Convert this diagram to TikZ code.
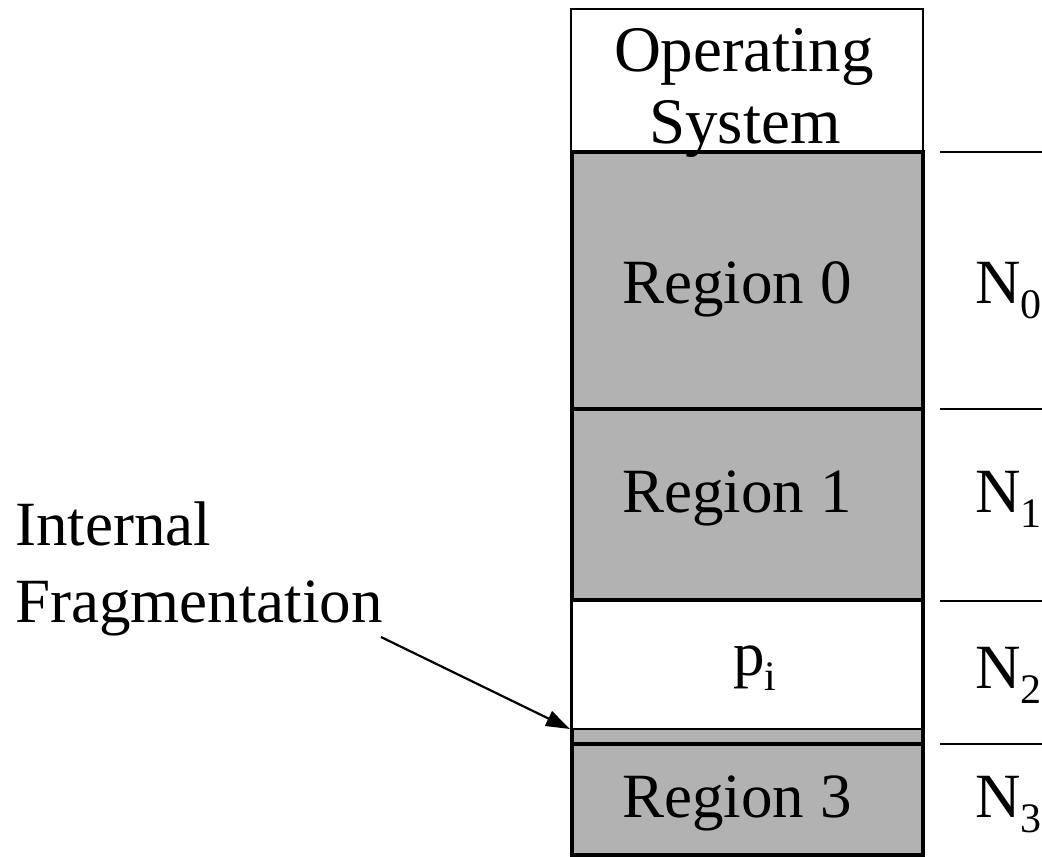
\documentclass[tikz,border=0pt]{standalone}
\usepackage{fontspec}
\setmainfont{Liberation Serif}
\usetikzlibrary{arrows.meta}
\definecolor{regiongray}{RGB}{178,178,178}
\newcommand{\sbs}[1]{\raisebox{-7.8pt}{\fontsize{21}{21}\selectfont #1}}
\begin{document}
\begin{tikzpicture}[x=0.5pt,y=-0.5pt,
  lbl/.style={font=\fontsize{31.5}{36}\selectfont, inner sep=0pt, anchor=base},
  oslbl/.style={lbl, font=\fontsize{32.5}{36}\selectfont},
  lblw/.style={lbl, anchor=base west},
  thickbox/.style={draw=black, line width=2.2pt, fill=regiongray},
  thinbox/.style={draw=black, line width=0.8pt, fill=white},
  sepline/.style={draw=black, line width=0.9pt},
  pointer/.style={draw=black, line width=1.1pt, -{Triangle[length=12pt,width=8pt]}}]
\useasboundingbox (0,0) rectangle (1042,856);
% memory column
\draw[thinbox] (571,9) rectangle (923,152);
\draw[thickbox] (572,600) rectangle (923,744);
\draw[thinbox] (572,600) rectangle (922,729);
\draw[thickbox] (572,152) rectangle (923,409);
\draw[thickbox] (572,409) rectangle (923,600);
\draw[thickbox] (572,744) rectangle (923,855);
% separators on the right
\draw[sepline] (940,152) -- (1042,152);
\draw[sepline] (940,409) -- (1042,409);
\draw[sepline] (940,601) -- (1042,601);
\draw[sepline] (940,744) -- (1042,744);
% texts
\node[oslbl] (os1) at (744,72) {Operating};
\node[oslbl] (os2) at (745,143) {System};
\node[lbl] (r0) at (737,303) {Region 0};
\node[lbl] (r1) at (737,512) {Region 1};
\node[lbl] (pi) at (755,675) {p\sbs{i}};
\node[lbl] (r3) at (737,817) {Region 3};
\node[lblw] (n0) at (975,303) {N\sbs{0}};
\node[lblw] (n1) at (975,512) {N\sbs{1}};
\node[lblw] (n2) at (975,688) {N\sbs{2}};
\node[lblw] (n3) at (975,817) {N\sbs{3}};
\node[lblw] (int1) at (15,545) {Internal};
\node[lblw] (int2) at (15,622) {Fragmentation};
% arrow
\coordinate (fragtail) at (381,637);
\coordinate (strip) at (570,729);
\draw[pointer] (fragtail) -- (strip);
\end{tikzpicture}
\end{document}
